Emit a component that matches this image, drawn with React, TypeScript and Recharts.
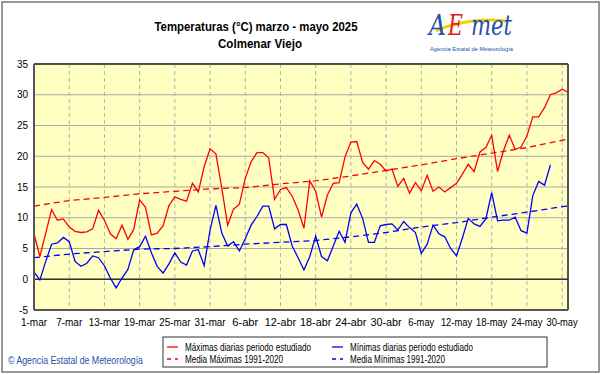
import {
  CartesianGrid,
  Line,
  LineChart,
  ReferenceLine,
  XAxis,
  YAxis,
} from 'recharts';

// daily values, index 0 = 1-mar
const maxT = [
  7.4, 3.7, 7.5, 11.3, 9.6, 9.8, 8.5, 7.8, 7.6, 7.7,
  8.2, 11.2, 9.6, 7.4, 6.6, 8.8, 6.5, 8.1, 12.9, 11.7,
  7.2, 7.5, 8.7, 12.0, 13.4, 13.0, 12.7, 15.6, 14.2, 18.3,
  21.2, 20.4, 14.8, 8.8, 11.4, 12.2, 16.4, 19.1, 20.6, 20.6,
  19.7, 13.0, 14.6, 14.9, 13.5, 11.3, 8.3, 16.0, 14.3, 10.1,
  13.7, 15.6, 15.7, 19.9, 22.3, 22.4, 19.0, 17.9, 19.3, 18.7,
  17.6, 17.9, 15.1, 16.4, 14.0, 15.7, 14.4, 16.9, 14.3, 15.0,
  14.2, 14.9, 15.6, 17.1, 18.7, 17.5, 20.7, 21.4, 23.4, 17.5,
  20.9, 23.4, 21.1, 21.5, 23.3, 26.4, 26.4, 27.9, 30.0, 30.3,
  30.9, 30.4,
];

const minT = [
  1.2, -0.1, 2.9, 5.7, 5.9, 6.8, 6.1, 2.9, 2.1, 2.6,
  3.8, 3.5, 2.2, 0.2, -1.4, 0.2, 1.6, 4.8, 5.3, 7.0,
  4.3, 2.1, 1.0, 2.5, 4.3, 2.8, 2.3, 4.6, 4.8, 2.2,
  8.0, 12.0, 7.5, 5.4, 6.1, 4.6, 6.6, 8.8, 10.2, 11.9,
  11.9, 8.2, 8.9, 8.9, 5.4, 3.5, 1.5, 3.7, 7.0, 3.7,
  3.0, 5.4, 7.8, 6.0, 10.8, 12.2, 9.9, 6.0, 6.0, 8.7,
  8.9, 9.0, 8.0, 9.4, 8.4, 7.6, 4.2, 5.7, 8.8, 7.4,
  6.9, 5.0, 3.8, 6.7, 9.9, 9.0, 8.6, 9.8, 14.1, 9.5,
  9.6, 9.6, 10.1, 7.9, 7.5, 13.6, 15.9, 15.3, 18.6,
];

// 1991-2020 means, read at the tick days
const normDays = [0, 6, 12, 18, 24, 30, 36, 42, 48, 54, 60, 66, 72, 78, 84, 90, 91];
const normMax = [11.9, 12.8, 13.3, 13.9, 14.3, 14.7, 14.9, 15.5, 16.0, 16.8, 17.7, 18.6, 19.6, 20.5, 21.4, 22.6, 22.8];
const normMin = [3.5, 4.1, 4.5, 4.9, 5.0, 5.3, 5.7, 6.0, 6.3, 6.9, 7.6, 8.5, 9.2, 10.1, 10.9, 11.8, 11.9];

const tickDays = [0, 6, 12, 18, 24, 30, 36, 42, 48, 54, 60, 66, 72, 78, 84, 90];
const tickLabels = [
  '1-mar', '7-mar', '13-mar', '19-mar', '25-mar', '31-mar', '6-abr', '12-abr',
  '18-abr', '24-abr', '30-abr', '6-may', '12-may', '18-may', '24-may', '30-may',
];
const yTicks = [-5, 0, 5, 10, 15, 20, 25, 30, 35];

const data = maxT.map((v, i) => {
  const n = normDays.indexOf(i);
  return {
    day: i,
    max: v,
    min: i < minT.length ? minT[i] : null,
    nmax: n >= 0 ? normMax[n] : null,
    nmin: n >= 0 ? normMin[n] : null,
  };
});

const FONT = '"Liberation Sans", Arial, sans-serif';
const RED = '#ff0000';
const BLUE = '#0000ff';
const LOGO_BLUE = '#1f4fa8';

// x tick text squeezed a little, the original uses a narrow bitmap font
function XTick({ x, y, payload }: any) {
  const label = tickLabels[tickDays.indexOf(payload.value)] ?? '';
  return (
    <text
      x={x}
      y={y + 9}
      textAnchor="middle"
      fontFamily={FONT}
      fontSize={10}
      fill="#000"
      textLength={label.length * 5.2}
      lengthAdjust="spacingAndGlyphs"
    >
      {label}
    </text>
  );
}

export default function App() {
  return (
    <div
      style={{
        position: 'absolute',
        left: 0,
        top: 0,
        width: 601,
        height: 374,
        background: '#fff',
        fontFamily: FONT,
      }}
    >
      <LineChart
        width={601}
        height={374}
        data={data}
        margin={{ top: 64, right: 33, bottom: 44, left: 6 }}
      >
        <CartesianGrid
          vertical={false}
          stroke="#a8a8a8"
          fill="#ffffc2"
          fillOpacity={1}
        />
        <CartesianGrid horizontal={false} stroke="#b0b0b0" strokeDasharray="4 3" />
        <XAxis
          dataKey="day"
          type="number"
          domain={[0, 91]}
          ticks={tickDays}
          tick={<XTick />}
          interval={0}
          height={20}
          tickLine={false}
          tickSize={3}
          tickMargin={4}
          axisLine={{ stroke: '#555', strokeWidth: 2 }}
        />
        <YAxis
          domain={[-5, 35]}
          ticks={yTicks}
          interval={0}
          width={28}
          tickLine={false}
          tickSize={3}
          tickMargin={3}
          axisLine={{ stroke: '#555', strokeWidth: 2 }}
          tick={{ fill: '#000', fontSize: 10, fontFamily: FONT }}
        />
        <ReferenceLine y={35} stroke="#3f5a3f" strokeWidth={2} />
        <ReferenceLine x={91} stroke="#555" strokeWidth={2} />
        <ReferenceLine y={0} stroke="#333" strokeWidth={1.5} />
        <Line
          dataKey="nmax"
          stroke={RED}
          strokeWidth={1.3}
          strokeDasharray="6 4"
          dot={false}
          connectNulls
          isAnimationActive={false}
        />
        <Line
          dataKey="nmin"
          stroke={BLUE}
          strokeWidth={1.3}
          strokeDasharray="6 4"
          dot={false}
          connectNulls
          isAnimationActive={false}
        />
        <Line
          dataKey="max"
          stroke={RED}
          strokeWidth={1.3}
          dot={false}
          isAnimationActive={false}
        />
        <Line
          dataKey="min"
          stroke={BLUE}
          strokeWidth={1.3}
          dot={false}
          isAnimationActive={false}
        />
      </LineChart>

      <svg
        width={601}
        height={374}
        style={{ position: 'absolute', left: 0, top: 0, pointerEvents: 'none' }}
      >
        <rect x={2} y={2} width={597} height={370} fill="none" stroke="#777" strokeWidth={1.5} />
        <text x={256} y={31} textAnchor="middle" fontFamily={FONT} fontSize={13} fontWeight="bold" fill="#000" textLength={203} lengthAdjust="spacingAndGlyphs">
          Temperaturas (°C) marzo  - mayo 2025
        </text>
        <text x={260} y={48} textAnchor="middle" fontFamily={FONT} fontSize={13} fontWeight="bold" fill="#000" textLength={84} lengthAdjust="spacingAndGlyphs">
          Colmenar Viejo
        </text>

        {/* logo */}
        <path d="M436 31 Q468 17 506 21" stroke="#f5d000" strokeWidth={3} fill="none" />
        <text x={429} y={35} fontFamily='"DejaVu Serif", serif' fontStyle="italic" fontSize={28} fill={LOGO_BLUE} textLength={17} lengthAdjust="spacingAndGlyphs">
          A
        </text>
        <text x={448} y={35} fontFamily='"DejaVu Serif", serif' fontStyle="italic" fontSize={28} fill="#e02020" textLength={15} lengthAdjust="spacingAndGlyphs">
          E
        </text>
        <text x={471} y={35} fontFamily='"DejaVu Serif", serif' fontStyle="italic" fontSize={28} fill={LOGO_BLUE} textLength={41} lengthAdjust="spacingAndGlyphs">
          met
        </text>
        <text x={430} y={51} fontFamily={FONT} fontSize={6} fill={LOGO_BLUE} textLength={83} lengthAdjust="spacingAndGlyphs">
          Agencia Estatal de Meteorología
        </text>

        {/* legend */}
        <rect x={163} y={337} width={384} height={30} fill="#fff" stroke="#333" strokeWidth={1} />
        <line x1={167} y1={347} x2={178} y2={347} stroke={RED} strokeWidth={1.3} />
        <text x={185} y={350.5} fontFamily={FONT} fontSize={10} fill="#000" textLength={126} lengthAdjust="spacingAndGlyphs">
          Máximas diarias periodo estudiado
        </text>
        <line x1={167} y1={359} x2={178} y2={359} stroke={RED} strokeWidth={1.3} strokeDasharray="4 4" />
        <text x={185} y={362.5} fontFamily={FONT} fontSize={10} fill="#000" textLength={98} lengthAdjust="spacingAndGlyphs">
          Media Máximas 1991-2020
        </text>
        <line x1={332} y1={347} x2={343} y2={347} stroke={BLUE} strokeWidth={1.3} />
        <text x={350} y={350.5} fontFamily={FONT} fontSize={10} fill="#000" textLength={123} lengthAdjust="spacingAndGlyphs">
          Mínimas diarias periodo estudiado
        </text>
        <line x1={332} y1={359} x2={343} y2={359} stroke={BLUE} strokeWidth={1.3} strokeDasharray="4 4" />
        <text x={350} y={362.5} fontFamily={FONT} fontSize={10} fill="#000" textLength={95} lengthAdjust="spacingAndGlyphs">
          Media Mínimas 1991-2020
        </text>

        <text x={8} y={364} fontFamily={FONT} fontSize={10.5} fill="#2a4fa8" textLength={135} lengthAdjust="spacingAndGlyphs">
          © Agencia Estatal de Meteorología
        </text>
      </svg>
    </div>
  );
}
